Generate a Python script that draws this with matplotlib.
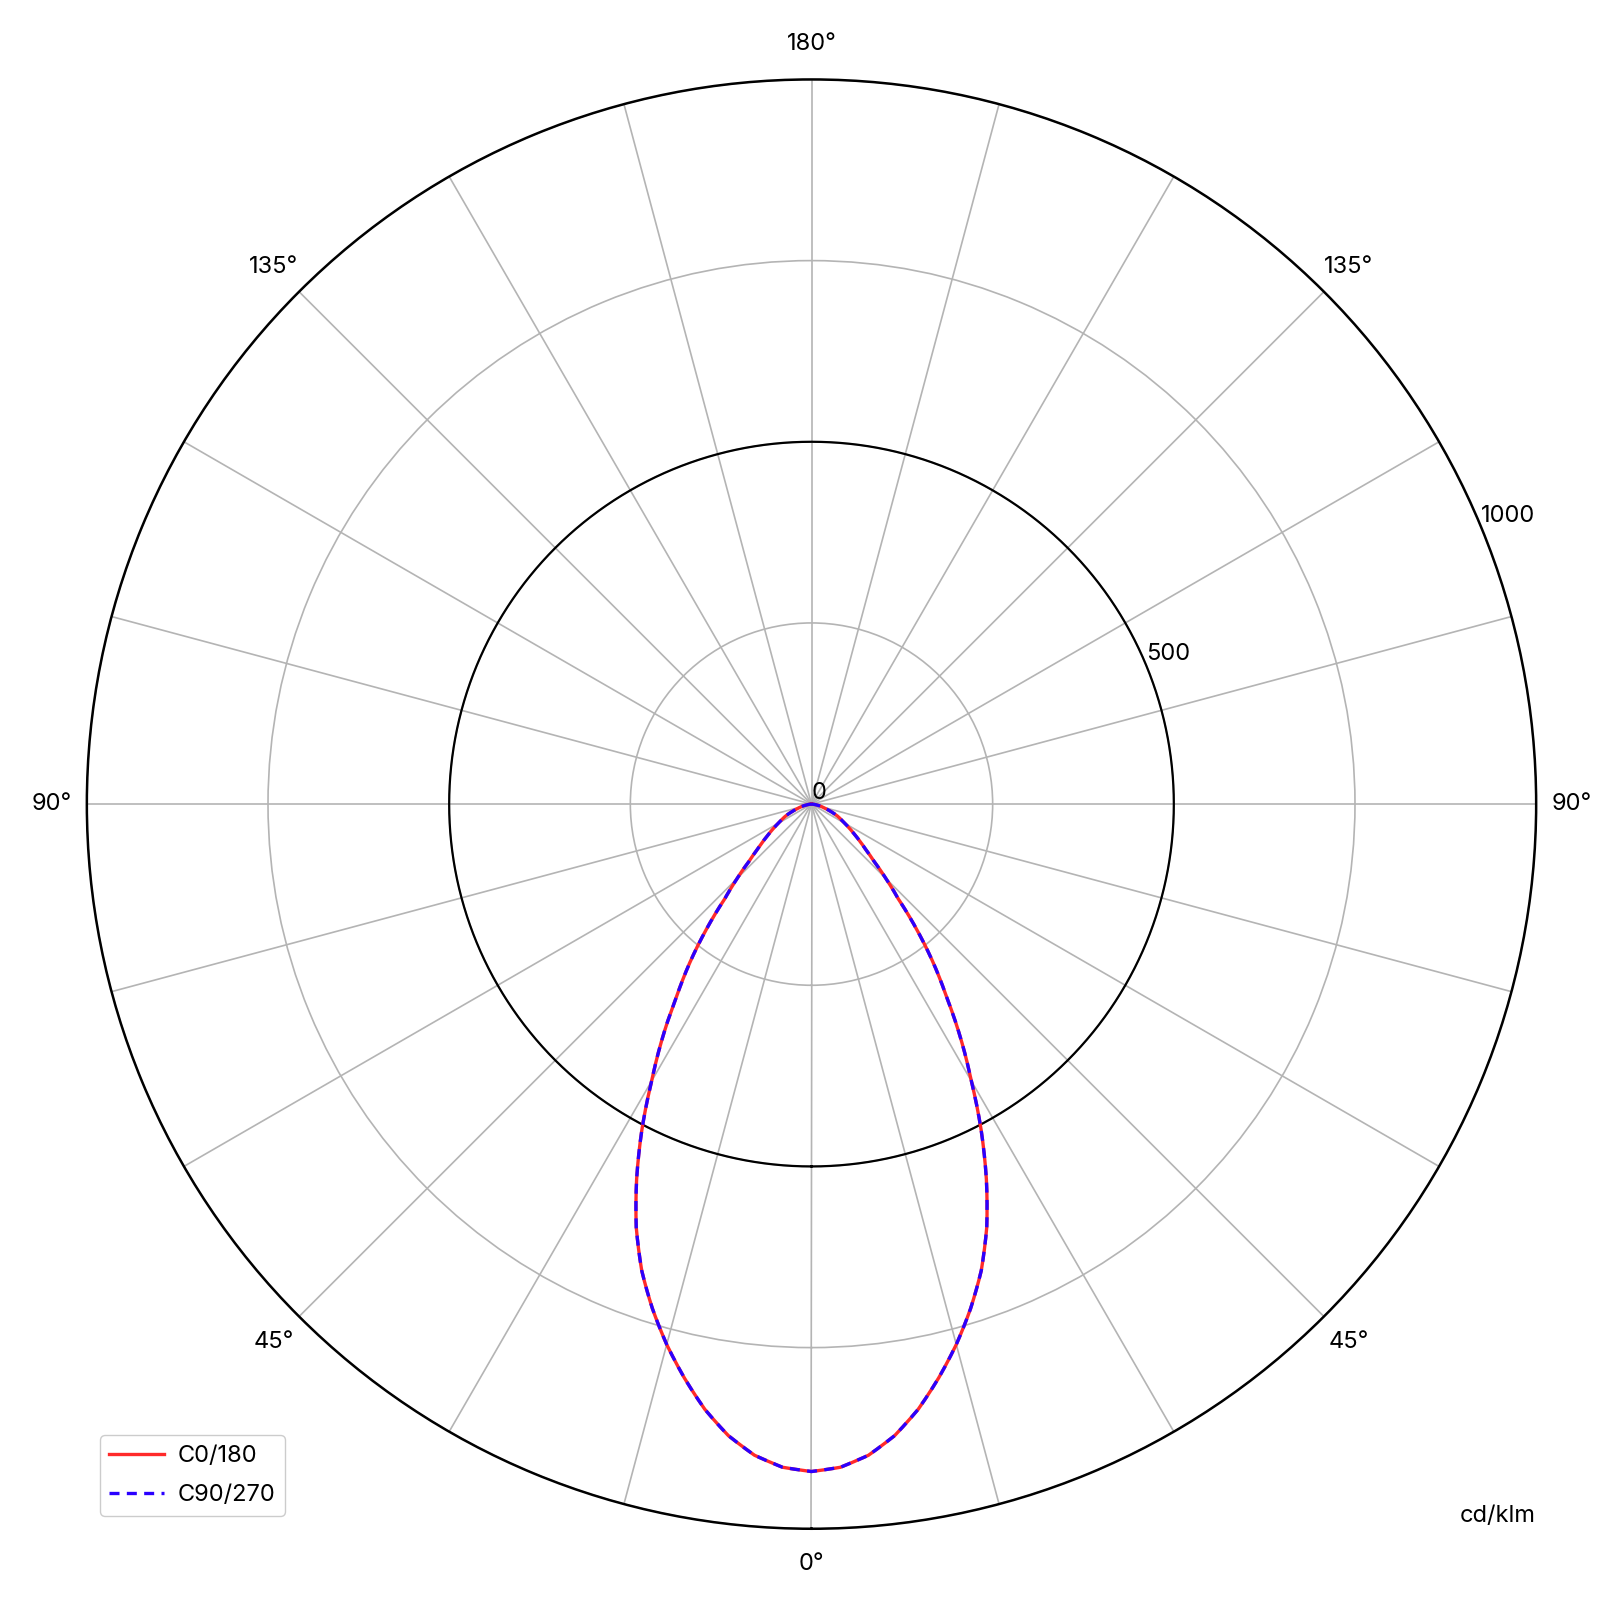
"""
Diagrama polar fotométrico (cd/klm) para los planos C0/180 y C90/270.
Salida: out.png
"""

import matplotlib

matplotlib.use("Agg")
import matplotlib.pyplot as plt
import numpy as np

plt.rcParams["font.family"] = ["Inter", "DejaVu Sans"]

ANGULOS = [
    0, 2.5, 5, 7.5, 10, 12.5, 15, 17.5, 20, 22.5, 25, 27.5, 30, 32.5, 35, 37.5,
    40, 42.5, 45, 47.5, 50, 52.5, 55, 57.5, 60, 62.5, 65, 67.5, 70, 72.5, 75,
    77.5, 80, 82.5, 85, 87.5, 90,
]
C0_180 = [
    921, 916, 902, 879, 848, 811, 772, 730, 685, 632, 571, 507, 441, 383, 325, 276,
    226, 177, 145, 117, 98, 84, 72, 62, 53, 46, 40, 33, 26, 20, 16,
    12, 8, 5, 3, 1, 0,
]
C90_270 = [
    921, 916, 902, 879, 848, 811, 772, 730, 685, 632, 571, 507, 441, 383, 325, 276,
    226, 177, 145, 117, 98, 84, 72, 62, 53, 46, 40, 33, 26, 20, 16,
    12, 8, 5, 3, 1, 0,
]

SERIES = ["C0/180", "C90/270"]
ANILLOS = [0, 250, 500, 750, 1000]
ETIQUETAS_ANILLOS = ["0", "", "500", "", "1000"]
ANILLO_NEGRO = 500
RADIO_MAX = 1000
PASO_RADIOS = 15
UNIDAD = "cd/klm"

COLOR_ROJO = "#ff2a2a"
COLOR_AZUL = "#2a00ff"
COLOR_GRID = "#b4b4b4"
TAM_FUENTE = 17


def espejo(angulos, valores):
    """Completa el semiplano izquierdo (-90..0) reflejando la curva."""
    ang = np.asarray(angulos, dtype=float)
    val = np.asarray(valores, dtype=float)
    theta = np.concatenate([-ang[::-1], ang[1:]])
    r = np.concatenate([val[::-1], val[1:]])
    return np.deg2rad(theta), r


def etiqueta_angulo(grados):
    if grados % 45:
        return ""
    g = grados if grados <= 180 else 360 - grados
    return f"{g}°"


def main():
    fig = plt.figure(figsize=(16.23, 16.05), dpi=100)
    ax = fig.add_axes([0.0535, 0.0475, 0.893, 0.903], projection="polar")

    ax.set_theta_zero_location("S")
    ax.set_theta_direction(1)
    ax.set_ylim(0, RADIO_MAX)

    grados = list(range(0, 360, PASO_RADIOS))
    ax.set_thetagrids(grados, [etiqueta_angulo(g) for g in grados], fontsize=TAM_FUENTE)
    ax.tick_params(axis="x", pad=15)
    ax.set_yticks(ANILLOS)
    ax.set_yticklabels(ETIQUETAS_ANILLOS, fontsize=TAM_FUENTE)
    ax.set_rlabel_position(112.5)
    ax.grid(True, color=COLOR_GRID, linewidth=1.2)
    ax.spines["polar"].set_linewidth(1.8)
    ax.spines["polar"].set_color("black")

    # anillo de 500 resaltado en negro
    circulo = np.linspace(0, 2 * np.pi, 721)
    ax.plot(circulo, np.full_like(circulo, ANILLO_NEGRO), color="black", linewidth=1.6, zorder=2)

    lineas = []
    th, r = espejo(ANGULOS, C0_180)
    lineas += ax.plot(th, r, color=COLOR_ROJO, linewidth=2.4, label=SERIES[0], zorder=3)
    th, r = espejo(ANGULOS, C90_270)
    lineas += ax.plot(th, r, color=COLOR_AZUL, linewidth=2.4, linestyle=(0, (3, 2.2)),
                      label=SERIES[1], zorder=4)
    # que el tramo entre puntos siga la curva polar y no una recta
    for ln in lineas:
        ln.get_path()._interpolation_steps = 12

    fig.legend(
        loc="lower left",
        bbox_to_anchor=(0.0616, 0.0555),
        fontsize=TAM_FUENTE,
        handlelength=2.3,
        handletextpad=0.6,
        labelspacing=0.75,
        borderaxespad=0,
        framealpha=1,
    )
    fig.text(0.9228, 0.0553, UNIDAD, fontsize=TAM_FUENTE, ha="center", va="center")

    fig.savefig("out.png", dpi=100)
    plt.close(fig)


if __name__ == "__main__":
    main()
